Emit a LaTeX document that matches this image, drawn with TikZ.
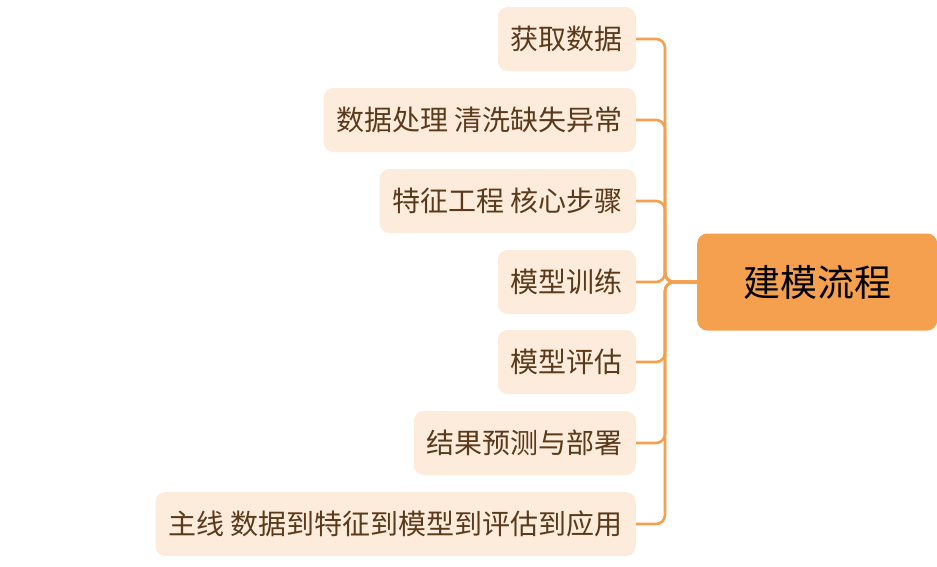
\documentclass[tikz,border=0pt]{standalone}
\usepackage{fontspec}
\newfontfamily\cjk{Noto Sans CJK SC}
\definecolor{org}{HTML}{F5A04F}
\definecolor{lt}{HTML}{FDEBDC}
\definecolor{tx}{HTML}{5A3A1A}
\begin{document}
\begin{tikzpicture}[x=1pt,y=-1pt,
  leaf/.style={fill=lt,rounded corners=10pt,minimum height=64pt,inner xsep=13pt,anchor=east,text=tx,font=\cjk\fontsize{28}{32}\selectfont},
  link/.style={draw=org,line width=2.6pt,rounded corners=9pt}]
\useasboundingbox (0,0) rectangle (937,566);
\node[fill=org,rounded corners=10pt,minimum width=240pt,minimum height=97pt,font=\cjk\fontsize{37}{40}\selectfont,text=black,anchor=west] (root) at (697,282) {建模流程};
\node[leaf] (c1) at (636,39) {获取数据};
\node[leaf] (c2) at (636,120) {数据处理 清洗缺失异常};
\node[leaf] (c3) at (636,201) {特征工程 核心步骤};
\node[leaf] (c4) at (636,282) {模型训练};
\node[leaf] (c5) at (636,362) {模型评估};
\node[leaf] (c6) at (636,443) {结果预测与部署};
\node[leaf] (c7) at (636,524) {主线 数据到特征到模型到评估到应用};
\coordinate (j) at (665,282);
\foreach \c in {c1,c2,c3,c4,c5,c6,c7}
  \draw[link] (root.west) -- (j) |- (\c.east);
\end{tikzpicture}
\end{document}
